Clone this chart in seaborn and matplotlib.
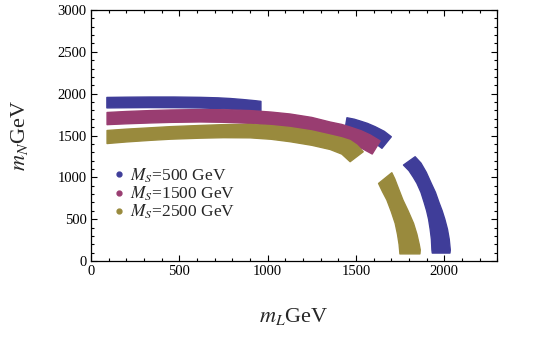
import matplotlib
matplotlib.use("Agg")
import matplotlib.pyplot as plt
import seaborn as sns
from matplotlib.lines import Line2D
from matplotlib.ticker import MultipleLocator

# ---- data (band edges of the scatter clouds) ----
series_labels = [r"$M_S$=500 GeV", r"$M_S$=1500 GeV", r"$M_S$=2500 GeV"]
series_colors = ["#3F3D99", "#993D71", "#998A3D"]

# M_S = 500 GeV : three pieces
b1_upper_x = [90, 200, 330, 470, 620, 720, 790, 860, 930, 962]
b1_upper_y = [1955, 1958, 1960, 1960, 1956, 1950, 1942, 1930, 1916, 1908]
b1_lower_x = [90, 200, 330, 470, 620, 720, 790, 860, 930, 962]
b1_lower_y = [1830, 1832, 1834, 1833, 1829, 1822, 1814, 1805, 1796, 1795]

b2_upper_x = [1449, 1490, 1524, 1565, 1609, 1660, 1700]
b2_upper_y = [1712, 1695, 1673, 1645, 1605, 1550, 1485]
b2_lower_x = [1439, 1480, 1524, 1565, 1609, 1647]
b2_lower_y = [1586, 1545, 1497, 1455, 1407, 1347]

b3_outer_x = [1835, 1868, 1898, 1926, 1950, 1970, 1988, 2003, 2018, 2028, 2034, 2032]
b3_outer_y = [1246, 1170, 1060, 929, 820, 700, 600, 500, 380, 260, 131, 95]
b3_inner_x = [1769, 1800, 1825, 1845, 1868, 1886, 1900, 1911, 1920, 1927, 1930, 1932]
b3_inner_y = [1147, 1080, 1000, 929, 820, 700, 600, 500, 380, 260, 131, 95]

# M_S = 1500 GeV
m_upper_x = [91, 200, 334, 450, 617, 750, 901, 1020, 1127, 1250, 1354, 1420, 1467, 1530, 1581, 1637]
m_upper_y = [1775, 1787, 1798, 1805, 1810, 1808, 1798, 1780, 1757, 1716, 1661, 1632, 1601, 1556, 1506, 1434]
m_lower_x = [91, 200, 334, 450, 617, 750, 901, 1020, 1127, 1250, 1354, 1420, 1467, 1530, 1592]
m_lower_y = [1630, 1640, 1650, 1657, 1662, 1658, 1645, 1620, 1590, 1540, 1485, 1447, 1406, 1350, 1279]

# M_S = 2500 GeV : two pieces
o1_upper_x = [91, 200, 334, 450, 617, 750, 901, 1020, 1127, 1250, 1354, 1420, 1467, 1505, 1541]
o1_upper_y = [1560, 1576, 1592, 1606, 1620, 1630, 1632, 1618, 1595, 1555, 1505, 1472, 1440, 1385, 1306]
o1_lower_x = [91, 200, 334, 450, 617, 750, 901, 1020, 1127, 1250, 1354, 1420, 1467]
o1_lower_y = [1404, 1423, 1442, 1456, 1468, 1474, 1472, 1455, 1426, 1383, 1333, 1278, 1187]

o2_outer_x = [1703, 1720, 1740, 1766, 1795, 1826, 1845, 1858, 1864, 1862]
o2_outer_y = [1055, 980, 870, 729, 600, 450, 320, 200, 131, 85]
o2_inner_x = [1628, 1650, 1675, 1700, 1722, 1735, 1744, 1747, 1749]
o2_inner_y = [927, 830, 729, 590, 450, 320, 200, 131, 85]

x_ticks = [0, 500, 1000, 1500, 2000]
y_ticks = [0, 500, 1000, 1500, 2000, 2500, 3000]

# ---- style ----
sns.set_theme(style="ticks")
plt.rcParams["font.family"] = ["Liberation Serif", "DejaVu Serif"]
plt.rcParams["mathtext.fontset"] = "stix"

fig = plt.figure(figsize=(5.4, 3.37), dpi=100)
ax = fig.add_axes([0.1685, 0.2255, 0.7524, 0.7448])

def band(ax, ux, uy, lx, ly, color):
    px = list(ux) + list(lx)[::-1]
    py = list(uy) + list(ly)[::-1]
    ax.fill(px, py, facecolor=color, edgecolor=color, linewidth=1.0,
            joinstyle="round", zorder=2)

band(ax, b1_upper_x, b1_upper_y, b1_lower_x, b1_lower_y, series_colors[0])
band(ax, b2_upper_x, b2_upper_y, b2_lower_x, b2_lower_y, series_colors[0])
band(ax, b3_outer_x, b3_outer_y, b3_inner_x, b3_inner_y, series_colors[0])
band(ax, m_upper_x, m_upper_y, m_lower_x, m_lower_y, series_colors[1])
band(ax, o1_upper_x, o1_upper_y, o1_lower_x, o1_lower_y, series_colors[2])
band(ax, o2_outer_x, o2_outer_y, o2_inner_x, o2_inner_y, series_colors[2])

ax.set_xlim(0, 2300)
ax.set_ylim(0, 3000)
ax.set_xticks(x_ticks)
ax.set_yticks(y_ticks)
ax.xaxis.set_minor_locator(MultipleLocator(100))
ax.yaxis.set_minor_locator(MultipleLocator(100))
ax.tick_params(which="both", direction="in", top=True, right=True,
               colors="black", width=0.8, labelsize=10.5, pad=3)
ax.tick_params(which="major", length=4)
ax.tick_params(which="minor", length=2)
for s in ax.spines.values():
    s.set_color("black")
    s.set_linewidth(0.9)

ax.set_xlabel(r"$m_L$GeV", fontsize=16, labelpad=20)
ax.set_ylabel(r"$m_N$GeV", fontsize=16, labelpad=20)

handles = [Line2D([], [], marker="o", linestyle="none", color=c, markersize=3.5)
           for c in series_colors]
ax.legend(handles, series_labels, loc="upper left", bbox_to_anchor=(0.035, 0.405),
          frameon=False, fontsize=12.5, handlelength=0.8, handletextpad=0.25,
          labelspacing=0.0, borderaxespad=0)

fig.savefig("out.png", dpi=100)
